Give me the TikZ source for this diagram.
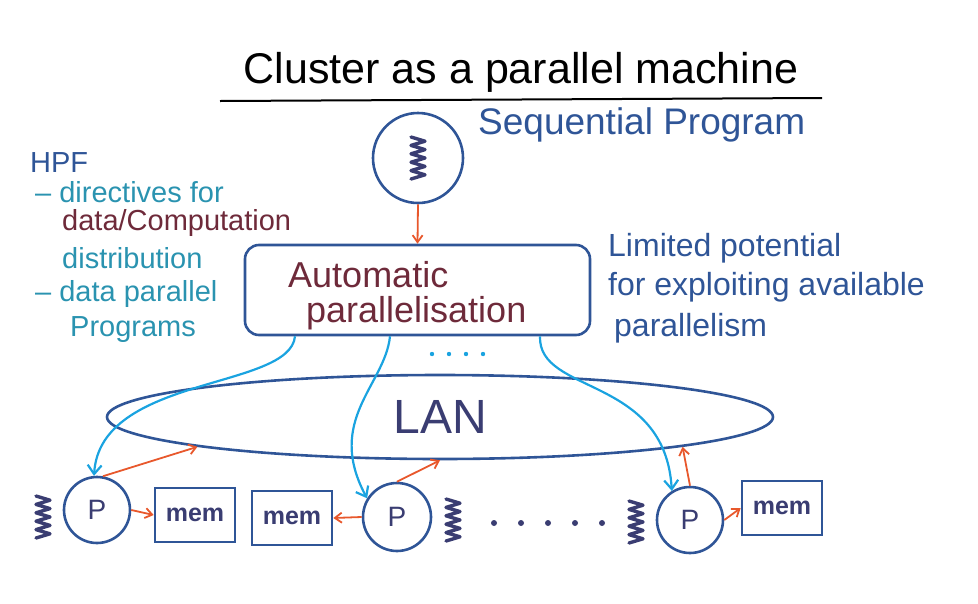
\documentclass[tikz,border=0pt]{standalone}
\usepackage{fontspec}
\setmainfont{Liberation Sans}
\usepackage{tikz}
\usetikzlibrary{shapes.geometric,arrows.meta}
\definecolor{edgeblue}{HTML}{2F5597}
\definecolor{inkblue}{HTML}{3A3D72}
\definecolor{arrorange}{HTML}{E8582C}
\definecolor{skyblue}{HTML}{1AA3E0}
\definecolor{tealink}{HTML}{2A93B0}
\definecolor{maroonink}{HTML}{6E2A3A}

\begin{document}
\begin{tikzpicture}[x=1pt,y=-1pt,
    outline/.style={draw=edgeblue,line width=2.6pt},
    proc/.style={outline,circle,minimum size=66pt,inner sep=0pt,text=inkblue,font=\fontsize{28}{30}\selectfont},
    memory/.style={outline,rectangle,minimum width=80pt,minimum height=54pt,inner sep=0pt,text=inkblue,font=\fontsize{25}{27}\selectfont\bfseries},
    send/.style={->,draw=arrorange,line width=1.8pt,>={Straight Barb[length=7pt,width=10pt]}},
    spread/.style={->,draw=skyblue,line width=2.2pt,>={Straight Barb[length=9pt,width=14pt]}},
    squigline/.style={draw=inkblue,line width=3.4pt,line join=round,line cap=round},
    pics/squig/.style={code={
        \draw[squigline] (-7,-21) \foreach \k in {0,...,4}{ -- (7,-21+8.4*\k+4.2) -- (-7,-21+8.4*\k+8.4) };
    }},
    note/.style={anchor=west,inner sep=0pt,font=\fontsize{29}{31}\selectfont}]
    \useasboundingbox (0,0) rectangle (978,603);

    % Title
    \node[inner sep=0pt,font=\fontsize{43}{46}\selectfont] (title) at (521,72) {Cluster as a parallel machine};
    \draw[line width=2pt] (220,101) -- (822,98);

    % Sequential program
    \node[outline,circle,minimum size=90pt,inner sep=0pt] (src) at (418,158) {};
    \pic at (src) {squig};
    \node[note,text=edgeblue,font=\fontsize{37}{40}\selectfont] (seqlbl) at (478,125) {Sequential Program};

    % Parallelising compiler
    \node[outline,rectangle,rounded corners=14pt,minimum width=345pt,minimum height=90pt] (auto) at (417.5,290) {};
    \node[note,text=maroonink,font=\fontsize{36}{38}\selectfont] (autoa) at (288,275) {Automatic};
    \node[note,text=maroonink,font=\fontsize{36}{38}\selectfont] (autob) at (306,313) {parallelisation};
    \draw[send] (src.south) -- (auto.north);

    % Remarks on the right
    \node[note,text=edgeblue,font=\fontsize{32}{34}\selectfont] (lim1) at (608,248) {Limited potential};
    \node[note,text=edgeblue,font=\fontsize{32}{34}\selectfont] (lim2) at (608,287) {for exploiting available};
    \node[note,text=edgeblue,font=\fontsize{32}{34}\selectfont] (lim3) at (614,328) {parallelism};

    % HPF remarks on the left
    \node[note,text=edgeblue] (hpf) at (30,163) {HPF};
    \node[note,text=tealink] (hpf1) at (35,192) {-- directives for};
    \node[note,text=maroonink] (hpf2) at (62,223) {data/Computation};
    \node[note,text=tealink] (hpf3) at (62,258) {distribution};
    \node[note,text=tealink] (hpf4) at (35,294) {-- data parallel};
    \node[note,text=tealink] (hpf5) at (70,330) {Programs};

    % LAN
    \node[outline,ellipse,minimum width=666pt,minimum height=84pt,inner sep=0pt,text=inkblue,font=\fontsize{48}{50}\selectfont] (lan) at (440,417) {LAN};

    % Nodes of the cluster
    \node[proc] (p1) at (97,510) {P};
    \node[memory] (m1) at (195,515) {mem};
    \node[memory] (m2) at (292,518) {mem};
    \node[proc,minimum size=68pt] (p2) at (397,517) {P};
    \node[proc] (p3) at (690,520) {P};
    \node[memory] (m3) at (782,508) {mem};
    \pic at (43,517) {squig};
    \pic at (453,520) {squig};
    \pic at (636,522) {squig};

    % dots
    \foreach \x in {432,449,466,483} \fill[skyblue] (\x,354) circle (2.2pt);
    \foreach \x in {494,521,548,575,602} \fill[inkblue] (\x,523) circle (3pt);

    % distribution of the program
    \draw[spread] ([xshift=-122.5pt]auto.south) .. controls (290,390) and (100,375) .. (p1.95);
    \draw[spread] ([xshift=-27.5pt]auto.south) .. controls (385,385) and (325,420) .. (p2.148);
    \draw[spread] ([xshift=122.5pt]auto.south) .. controls (538,395) and (665,375) .. (p3.122);

    % memory and network access
    \draw[send] (p1.east) -- (m1.west);
    \draw[send] (p2.west) -- (m2.east);
    \draw[send] (p3.east) -- (m3.west);
    \draw[send] (p1.80) -- (lan.187);
    \draw[send] (p2.north) -- (lan.south);
    \draw[send] (p3.north) -- (lan.353);
\end{tikzpicture}
\end{document}
